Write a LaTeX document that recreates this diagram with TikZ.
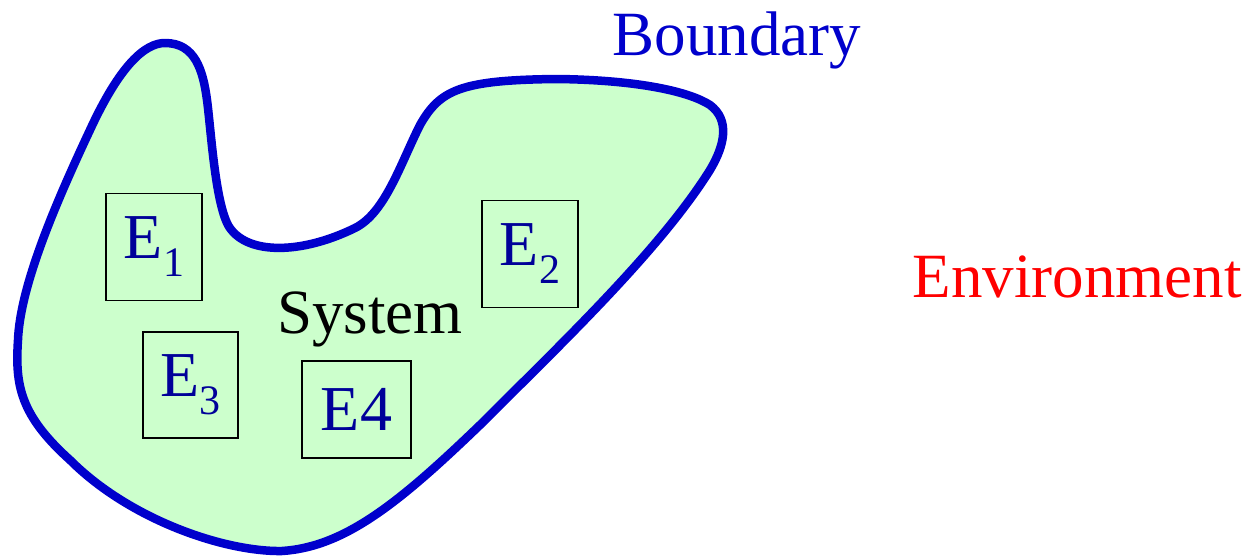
\documentclass[tikz,border=0pt]{standalone}
\usepackage{fontspec}
\setmainfont{Liberation Serif}
\definecolor{bndblue}{RGB}{0,0,204}
\definecolor{eblue}{RGB}{0,0,153}
\definecolor{sysgreen}{RGB}{204,255,204}
\newcommand\mysub[1]{\raisebox{-0.28em}{\fontsize{42}{42}\selectfont #1}}
\tikzset{
  elembox/.style={draw=black, line width=1.6pt, inner sep=0pt, text=eblue,
    font=\fontsize{64}{64}\selectfont},
  bigtext/.style={font=\fontsize{63}{63}\selectfont, anchor=base, inner sep=0pt}
}
\begin{document}
\begin{tikzpicture}[x=1pt,y=-1pt]
\useasboundingbox (0,0) rectangle (1250,557);
\draw[bndblue, line width=8.5pt, fill=sysgreen, line join=round]
  (165,43) .. controls (195,43) and (203,70) .. (207,100)
  .. controls (211,130) and (215,200) .. (228,225)
  .. controls (245,255) and (300,255) .. (355,228)
  .. controls (385,213) and (400,165) .. (420,125)
  .. controls (440,90) and (460,80) .. (557,79)
  .. controls (640,80) and (690,92) .. (710,105)
  .. controls (730,120) and (725,145) .. (710,170)
  .. controls (660,250) and (560,345) .. (480,425)
  .. controls (400,502) and (345,547) .. (282,551)
  .. controls (225,552) and (130,520) .. (70,460)
  .. controls (20,415) and (15,385) .. (18,340)
  .. controls (20,290) and (50,215) .. (90,130)
  .. controls (120,65) and (145,43) .. (165,43) -- cycle;
\node[elembox, minimum width=96, minimum height=107] (e1) at (154,247) {E\mysub{1}};
\node[elembox, minimum width=96, minimum height=107] (e2) at (530,254) {E\mysub{2}};
\node[elembox, minimum width=95, minimum height=106] (e3) at (190.5,385) {E\mysub{3}};
\node[elembox, minimum width=109, minimum height=97] (e4) at (356.5,409.5) {E4};
\node[bigtext, text=black] (sys) at (370,333) {System};
\node[bigtext, text=bndblue] (bnd) at (737,55) {Boundary};
\node[bigtext, text=red] (env) at (1077,297) {Environment};
\end{tikzpicture}
\end{document}
